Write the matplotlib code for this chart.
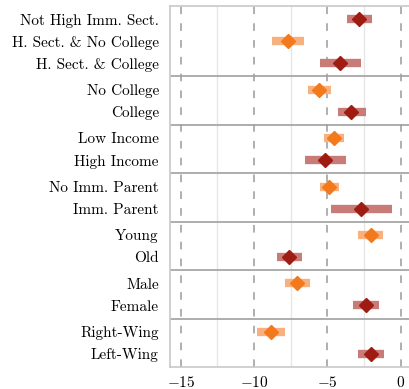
import matplotlib
matplotlib.use("Agg")
import matplotlib.pyplot as plt

plt.rcParams['font.family'] = ['cmr10', 'DejaVu Serif']
plt.rcParams['axes.unicode_minus'] = False
plt.rcParams['axes.formatter.use_mathtext'] = True

# rows grouped as on the chart, top to bottom
groups = [
    ["Not High Imm. Sect.", "H. Sect. & No College", "H. Sect. & College"],
    ["No College", "College"],
    ["Low Income", "High Income"],
    ["No Imm. Parent", "Imm. Parent"],
    ["Young", "Old"],
    ["Male", "Female"],
    ["Right-Wing", "Left-Wing"],
]
labels = [l for g in groups for l in g]
estimate = [-2.84, -7.70, -4.12, -5.55, -3.37, -4.57, -5.14, -4.87, -2.68,
            -2.05, -7.59, -7.05, -2.34, -8.86, -2.05]
ci_low = [-3.64, -8.79, -5.50, -6.34, -4.25, -5.23, -6.55, -5.50, -4.75,
          -2.89, -8.43, -7.89, -3.23, -9.80, -2.91]
ci_high = [-1.98, -6.59, -2.71, -4.75, -2.39, -3.87, -3.75, -4.21, -0.61,
           -1.18, -6.73, -6.18, -1.50, -7.91, -1.11]
kind = ["red", "orange", "red", "orange", "red", "orange", "red", "orange", "red",
        "orange", "red", "orange", "red", "orange", "red"]

marker_col = {"orange": "#f27a1c", "red": "#9e1c12"}
bar_col = {"orange": "#f8b17e", "red": "#c97b77"}

# y positions, with a small extra gap between groups
ypos = []
sep = []
y = 0.0
for gi, g in enumerate(groups):
    if gi > 0:
        y += 0.2
        sep.append((ypos[-1] + y) / 2)
    for _ in g:
        ypos.append(y)
        y += 1.0

fig = plt.figure(figsize=(4.09, 3.89), dpi=100)
ax = fig.add_axes([170 / 409, 22 / 389, 239 / 409, 361 / 389])

for i in range(len(labels)):
    ax.plot([ci_low[i], ci_high[i]], [ypos[i], ypos[i]], color=bar_col[kind[i]],
            lw=6, solid_capstyle='butt', zorder=3)
    ax.plot(estimate[i], ypos[i], marker='D', ms=7.5, color=marker_col[kind[i]],
            mec=marker_col[kind[i]], zorder=4)

for s in sep:
    ax.axhline(s, color='#a0a0a0', lw=1.2, zorder=2)

ax.set_xticks([-15, -10, -5, 0])
ax.set_xticks([-12.5, -7.5, -2.5], minor=True)
ax.grid(which='major', axis='x', color='#9a9a9a', lw=1.1, ls=(0, (5, 6)), zorder=1)
ax.grid(which='minor', axis='x', color='#e6e6e6', lw=1.0, zorder=1)
ax.tick_params(axis='x', which='both', length=0, pad=6, labelsize=11)
ax.tick_params(axis='y', length=0, pad=8, labelsize=11)

ax.set_yticks(ypos)
ax.set_yticklabels(labels)
ax.set_ylim(ypos[-1] + 0.6, -0.6)
ax.set_xlim(-15.73, 0.57)

for side in ['left', 'top', 'bottom']:
    ax.spines[side].set_color('#c8c8c8')
    ax.spines[side].set_linewidth(1.2)
ax.spines['right'].set_visible(False)

fig.savefig("out.png", dpi=100)
